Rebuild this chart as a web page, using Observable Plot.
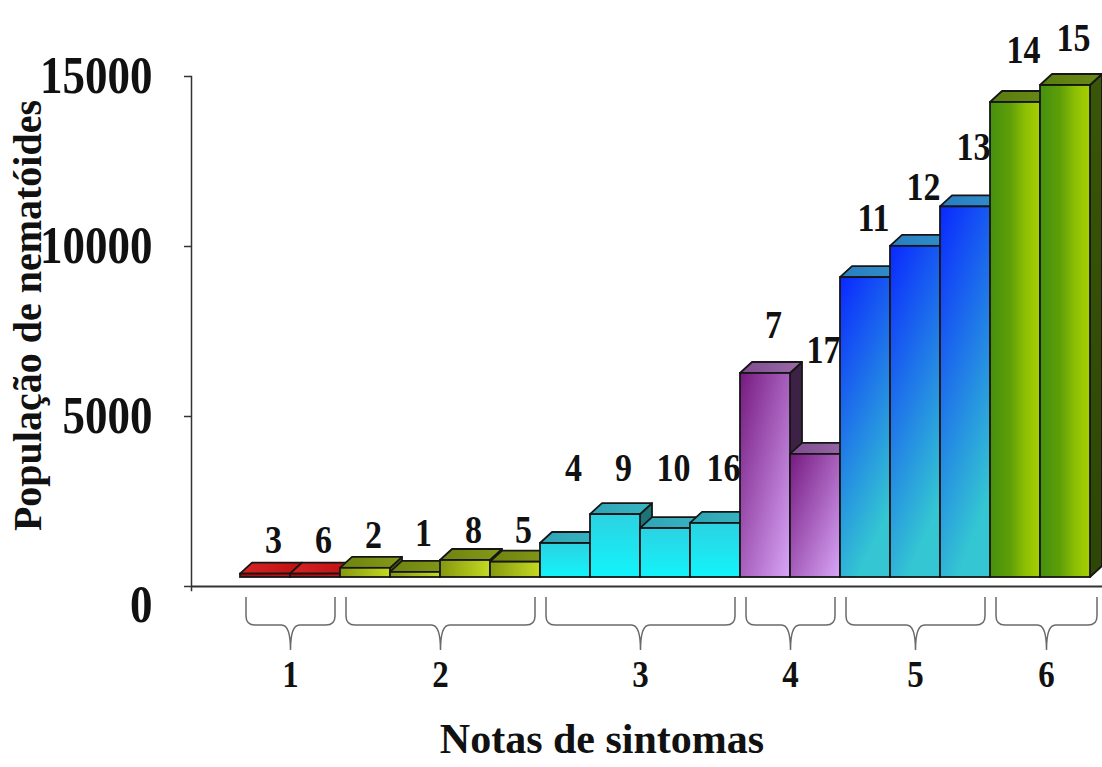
<!DOCTYPE html>
<html>
<head>
<meta charset="utf-8">
<script src="https://cdn.jsdelivr.net/npm/d3@7"></script>
<script src="https://cdn.jsdelivr.net/npm/@observablehq/plot@0.6"></script>
<style>
  html, body { margin: 0; padding: 0; background: #ffffff; }
  #chart svg { display: block; }
</style>
</head>
<body>
<div id="chart"></div>
<script>
// ---- Data ----
const barIds     = ["3","6","2","1","8","5","4","9","10","16","7","17","11","12","13","14","15"];
const barGroup   = [1, 1, 2, 2, 2, 2, 3, 3, 3, 3, 4, 4, 5, 5, 5, 6, 6];
const population = [100, 100, 270, 150, 500, 450, 1000, 1850, 1440, 1590, 6000, 3620, 8820, 9740, 10900, 13970, 14470];
// value (in population units) at which each bar's number label sits in the reference
const labelAt    = [1350, 1350, 1500, 1560, 1650, 1650, 3470, 3470, 3470, 3470, 7680, 6940, 10820, 11740, 12910, 15760, 16120];
const groupNames = ["1", "2", "3", "4", "5", "6"];
const yTicks     = [0, 5000, 10000, 15000];
const yTitle     = "População de nematóides";
const xTitle     = "Notas de sintomas";

// ---- Derived tables ----
const DX = 0.24;   // 3-D depth along x (in bar units)
const DY = 323.5;  // 3-D depth along y (in population units)
const bars = barIds.map((id, i) => ({id, i, g: barGroup[i], v: population[i], lab: labelAt[i]}));
const topPts = bars.flatMap(b => [
  {id: b.id, g: b.g, x: b.i,          y1: b.v,      y2: b.v},
  {id: b.id, g: b.g, x: b.i + DX,     y1: b.v,      y2: b.v + DY},
  {id: b.id, g: b.g, x: b.i + 1,      y1: b.v,      y2: b.v + DY},
  {id: b.id, g: b.g, x: b.i + 1 + DX, y1: b.v + DY, y2: b.v + DY}
]);
const sidePts = bars.flatMap(b => [
  {id: b.id, g: b.g, x: b.i + 1,      y1: 0,  y2: b.v},
  {id: b.id, g: b.g, x: b.i + 1 + DX, y1: DY, y2: b.v + DY}
]);
const groups = groupNames.map((name, k) => {
  const idx = barGroup.map((g, i) => g === k + 1 ? i : -1).filter(i => i >= 0);
  const start = d3.min(idx);
  const end = d3.max(idx) + 1 + (k === groupNames.length - 1 ? DX : 0); // last group shows its side face
  return {name, start, end, mid: (start + end) / 2};
});

const FONT = "'Liberation Serif', 'Times New Roman', serif";
const stroke = "#161616";
const groupIds = [1, 2, 3, 4, 5, 6];

function braceMark(index, scales) {
  const g = d3.create("svg:g")
    .attr("fill", "none").attr("stroke", "#6a6a6a").attr("stroke-width", 1.5);
  const y0 = scales.y(0) + 11, y1 = y0 + 28, y2 = y0 + 53, r = 9;
  for (const grp of groups) {
    const xa = scales.x(grp.start) + 6, xb = scales.x(grp.end) - 5, xm = (xa + xb) / 2;
    g.append("path").attr("d",
      `M${xa},${y0} L${xa},${y1 - r} Q${xa},${y1} ${xa + r},${y1} L${xm - r},${y1} ` +
      `Q${xm},${y1} ${xm},${y2} Q${xm},${y1} ${xm + r},${y1} L${xb - r},${y1} ` +
      `Q${xb},${y1} ${xb},${y1 - r} L${xb},${y0}`);
  }
  return g.node();
}

const marks = [
  Plot.frame({anchor: "left", stroke: "#333", strokeWidth: 1.5}),
  Plot.ruleY([0], {stroke: "#333", strokeWidth: 2}),
  Plot.axisY({ticks: yTicks, tickSize: 7, tickPadding: 32, stroke: "#333", strokeWidth: 1.5,
    tickFormat: d => d === 0 ? "" : String(d), fontSize: 45, fontWeight: "bold",
    fontFamily: FONT, fill: "#111", label: null}),
  Plot.text(yTicks.filter(d => d === 0), {y: d => d, text: d => String(d), frameAnchor: "left",
    dx: -39, dy: 19, textAnchor: "end", fontSize: 45, fontWeight: "bold", fill: "#111"}),
  // side faces
  ...groupIds.map(g => Plot.area(sidePts.filter(p => p.g === g),
    {x1: "x", y1: "y1", y2: "y2", z: "id", fill: `url(#side${g})`, stroke, strokeWidth: 1.8,
     strokeLinejoin: "round", dy: -9})),
  // top faces
  ...groupIds.map(g => Plot.area(topPts.filter(p => p.g === g),
    {x1: "x", y1: "y1", y2: "y2", z: "id", fill: `url(#top${g})`, stroke, strokeWidth: 1.8,
     strokeLinejoin: "round", dy: -9})),
  // front faces
  ...groupIds.map(g => Plot.rect(bars.filter(b => b.g === g),
    {x1: b => b.i, x2: b => b.i + 1, y1: () => 0, y2: "v", fill: `url(#front${g})`, stroke,
     strokeWidth: 1.8, dy: -9})),
  // bar number labels
  Plot.text(bars, {x: b => b.i + 0.5, y: "lab", text: "id", dx: 8, fontSize: 34,
    fontWeight: "bold", fill: "#111"}),
  braceMark,
  Plot.text(groups, {x: "mid", text: "name", frameAnchor: "bottom", dy: 84, lineAnchor: "middle",
    fontSize: 33, fontWeight: "bold", fill: "#111"}),
  Plot.text([xTitle], {frameAnchor: "bottom", dx: -45, dy: 149, lineAnchor: "middle",
    textAnchor: "middle", fontSize: 42, fontWeight: "bold", fill: "#111"}),
  Plot.text([yTitle], {frameAnchor: "left", rotate: -90, dx: -163, dy: -18, lineAnchor: "middle",
    textAnchor: "middle", fontSize: 40, fontWeight: "bold", fill: "#111"})
];

const svg = Plot.plot({
  width: 1102,
  height: 767,
  marginLeft: 191,
  marginRight: 0,
  marginTop: 76,
  marginBottom: 177,
  x: {domain: [0, 17], range: [240, 1090], axis: null},
  y: {domain: [0, 15000], range: [586, 76]},
  style: {fontFamily: FONT, background: "#ffffff", color: "#111"},
  marks
});

// the reference's numerals are drawn slightly taller than wide
d3.select(svg).selectAll("text").each(function() {
  if (/^\d+$/.test(this.textContent.trim())) {
    const t = this.getAttribute("transform") || "";
    this.setAttribute("transform", `${t} scale(1,1.15)`);
  }
});

// gradients for the 3-D faces
const defs = d3.select(svg).insert("defs", ":first-child");
function grad(id, stops, x2 = 1, y2 = 0) {
  const lg = defs.append("linearGradient").attr("id", id)
    .attr("x1", 0).attr("y1", 0).attr("x2", x2).attr("y2", y2);
  stops.forEach(([o, c]) => lg.append("stop").attr("offset", o).attr("stop-color", c));
}
grad("front1", [[0, "#a80808"], [1, "#c81414"]]);
grad("top1",   [[0, "#d42424"], [1, "#c01010"]]);
grad("side1",  [[0, "#7a0000"], [1, "#7a0000"]]);
grad("front2", [[0, "#86980f"], [1, "#c4da22"]]);
grad("top2",   [[0, "#6e8210"], [1, "#849a18"]]);
grad("side2",  [[0, "#4c5c08"], [1, "#4c5c08"]]);
grad("front3", [[0, "#2cd2e2"], [1, "#12f4fb"]], 0, 1);
grad("top3",   [[0, "#2ea4b4"], [1, "#38b4c2"]]);
grad("side3",  [[0, "#1a7478"], [1, "#1a7478"]]);
grad("front4", [[0, "#761a80"], [1, "#d8a6f8"]], 1, 1);
grad("top4",   [[0, "#7e4c90"], [1, "#9a6aa8"]]);
grad("side4",  [[0, "#3e2246"], [1, "#3e2246"]]);
grad("front5", [[0, "#0a28ff"], [1, "#34c6d2"]], 0.35, 1);
grad("top5",   [[0, "#2a7cc2"], [1, "#3090c8"]]);
grad("side5",  [[0, "#14307a"], [1, "#14307a"]]);
grad("front6", [[0, "#46900f"], [0.4, "#5e9e08"], [0.7, "#8cbf04"], [1, "#a8d000"]]);
grad("top6",   [[0, "#587c10"], [1, "#6a8a14"]]);
grad("side6",  [[0, "#3a5608"], [1, "#2e4606"]], 0, 1);

document.getElementById("chart").append(svg);
</script>
</body>
</html>
